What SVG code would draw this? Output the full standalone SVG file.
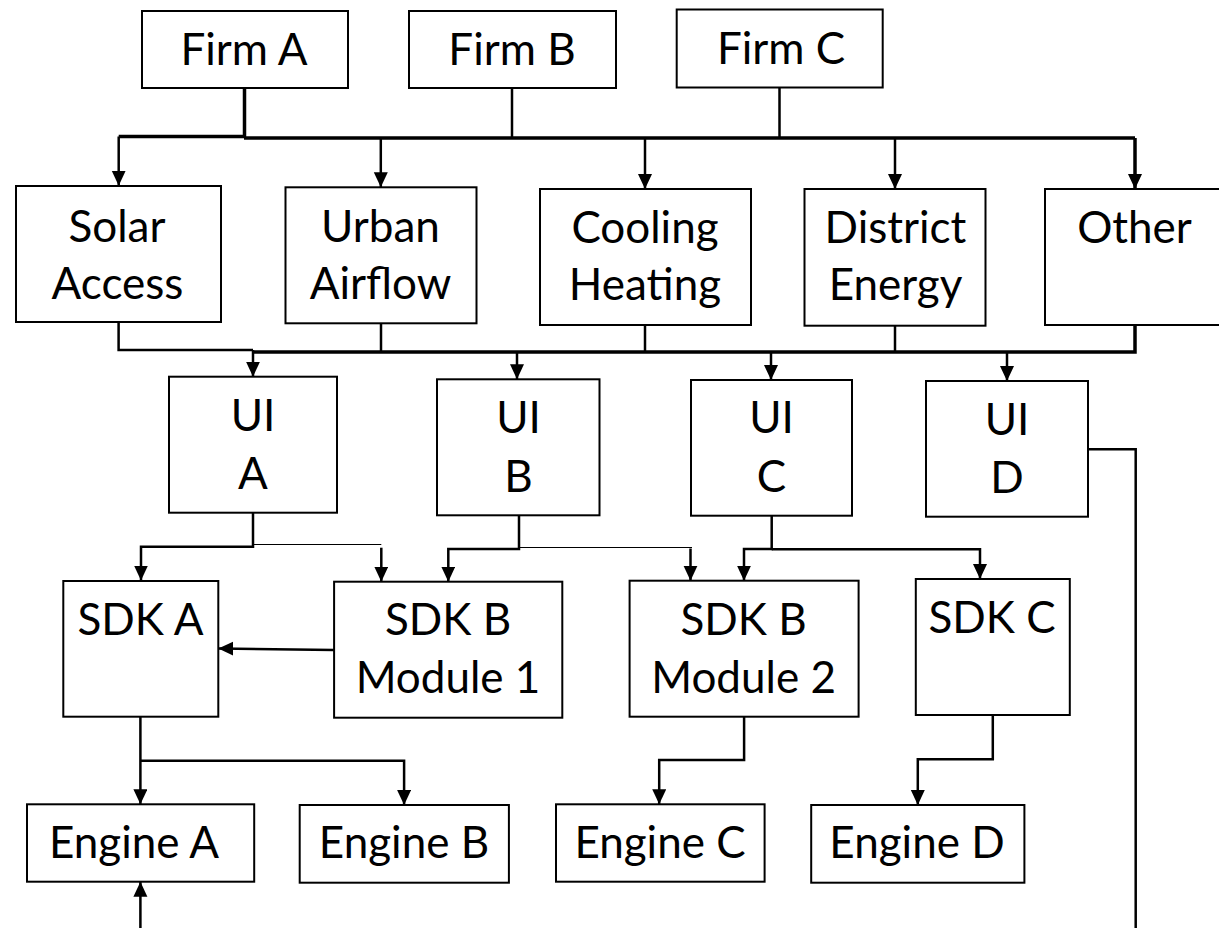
<svg xmlns="http://www.w3.org/2000/svg" width="1219" height="928" viewBox="0 0 1219 928">
<style>
.box{fill:#fff;stroke:#000;stroke-width:2}
.t{font-family:Lato,"Liberation Sans",sans-serif;font-size:44px;fill:#000;text-anchor:middle}
.c{fill:none;stroke:#000;stroke-width:2.5}
.thick{stroke-width:3.5}
.thin{stroke-width:1.2}
.arr{marker-end:url(#ah)}
</style>
<defs>
<marker id="ah" markerUnits="userSpaceOnUse" markerWidth="16" markerHeight="16" refX="15" refY="7" orient="auto">
<path d="M0,0 L15,7 L0,14 z" fill="#000"/>
</marker>
</defs>
<rect width="1219" height="928" fill="#fff"/>
<g id="connectors">
<path class="c thick" d="M244.5,88 V137"/>
<path class="c" d="M512,88 V138"/>
<path class="c" d="M779.5,87.5 V138"/>
<path class="c thick" d="M118.7,136.5 H244.5"/>
<path class="c thick" d="M244,138 H1135"/>
<path class="c arr" d="M118.7,136.5 V185.7"/>
<path class="c arr" d="M380.8,138 V187.3"/>
<path class="c arr" d="M645,138 V189"/>
<path class="c arr" d="M895,138 V189"/>
<path class="c thick arr" d="M1135,138 V189"/>
<path class="c" d="M118.6,322 V350 H253"/>
<path class="c" d="M381,323.3 V351.5"/>
<path class="c" d="M645,325 V351.5"/>
<path class="c" d="M895,325.7 V351.5"/>
<path class="c thick" d="M1135,325 V352 H253"/>
<path class="c arr" d="M253,350 V376.7"/>
<path class="c arr" d="M517,352 V379.3"/>
<path class="c arr" d="M771,352 V380"/>
<path class="c arr" d="M1007,352 V381"/>
<path class="c arr" d="M253,512.7 V546.7 H141 V580.5"/>
<path class="c thin" d="M253,544.5 H381.3"/>
<path class="c arr" d="M381.3,547.7 V581.7"/>
<path class="c arr" d="M519,515.3 V549 H448.3 V581.7"/>
<path class="c thin" d="M519,547.5 H692"/>
<path class="c arr" d="M690.5,548.5 V580.7"/>
<path class="c arr" d="M771.7,515.7 V549 H744 V580.7"/>
<path class="c arr" d="M771.7,549.3 H980 V579"/>
<path class="c arr" d="M1088,449.3 H1135.7 V945 H140.4 V881.7"/>
<path class="c arr" d="M334,650 L218.3,648.5"/>
<path class="c arr" d="M140.4,716.7 V804.3"/>
<path class="c arr" d="M140.4,760.7 H404.1 V805"/>
<path class="c arr" d="M744.1,716.7 V760 H659.2 V804.3"/>
<path class="c arr" d="M992.8,715 V759.3 H917.8 V805"/>
</g>
<g id="firmA"><rect class="box" x="142" y="11" width="206" height="77"/><text class="t" x="244" y="65">Firm A</text></g>
<g id="firmB"><rect class="box" x="409" y="11" width="207" height="77"/><text class="t" x="512" y="65">Firm B</text></g>
<g id="firmC"><rect class="box" x="676.7" y="9.5" width="206" height="78"/><text class="t" x="781" y="63.5">Firm C</text></g>
<g id="solar"><rect class="box" x="16" y="186" width="205" height="136"/><text class="t" x="117" y="242">Solar</text><text class="t" x="117.5" y="298.5">Access</text></g>
<g id="urban"><rect class="box" x="285.5" y="187.3" width="191" height="136"/><text class="t" x="380.5" y="242">Urban</text><text class="t" x="380.5" y="298.5">Airflow</text></g>
<g id="cooling"><rect class="box" x="540" y="189" width="211" height="136"/><text class="t" x="645" y="243">Cooling</text><text class="t" x="645" y="300">Heating</text></g>
<g id="district"><rect class="box" x="804.5" y="189" width="181" height="136.7"/><text class="t" x="895.5" y="243.3">District</text><text class="t" x="895.5" y="300">Energy</text></g>
<g id="other"><rect class="box" x="1045" y="189" width="190" height="136"/><text class="t" x="1134.5" y="243.3">Other</text></g>
<g id="uiA"><rect class="box" x="169" y="376.7" width="168" height="136"/><text class="t" x="253" y="431">UI</text><text class="t" x="253" y="489">A</text></g>
<g id="uiB"><rect class="box" x="437" y="379.3" width="162.5" height="136"/><text class="t" x="518.5" y="433.3">UI</text><text class="t" x="518.5" y="491.7">B</text></g>
<g id="uiC"><rect class="box" x="691" y="380" width="161" height="135.7"/><text class="t" x="771.5" y="433.3">UI</text><text class="t" x="771.5" y="491.7">C</text></g>
<g id="uiD"><rect class="box" x="926" y="381" width="162" height="135.7"/><text class="t" x="1007" y="435">UI</text><text class="t" x="1007" y="492.7">D</text></g>
<g id="sdkA"><rect class="box" x="63.3" y="581" width="155" height="135.7"/><text class="t" x="140.5" y="635">SDK A</text></g>
<g id="sdkB1"><rect class="box" x="334.1" y="581.7" width="228.2" height="136"/><text class="t" x="448" y="635">SDK B</text><text class="t" x="448" y="693.3">Module 1</text></g>
<g id="sdkB2"><rect class="box" x="629.6" y="580.7" width="229" height="136"/><text class="t" x="743.6" y="635">SDK B</text><text class="t" x="743.6" y="692.7">Module 2</text></g>
<g id="sdkC"><rect class="box" x="915.8" y="579" width="154" height="136"/><text class="t" x="992" y="633.3">SDK C</text></g>
<g id="engineA"><rect class="box" x="27" y="804.3" width="227.2" height="77.4"/><text class="t" x="134" y="858.3">Engine A</text></g>
<g id="engineB"><rect class="box" x="299.7" y="805" width="209.2" height="77.7"/><text class="t" x="404" y="858.3">Engine B</text></g>
<g id="engineC"><rect class="box" x="556" y="804.3" width="208.6" height="77.4"/><text class="t" x="660" y="858.3">Engine C</text></g>
<g id="engineD"><rect class="box" x="811.2" y="805" width="213.2" height="77.7"/><text class="t" x="917" y="858.3">Engine D</text></g>
</svg>
